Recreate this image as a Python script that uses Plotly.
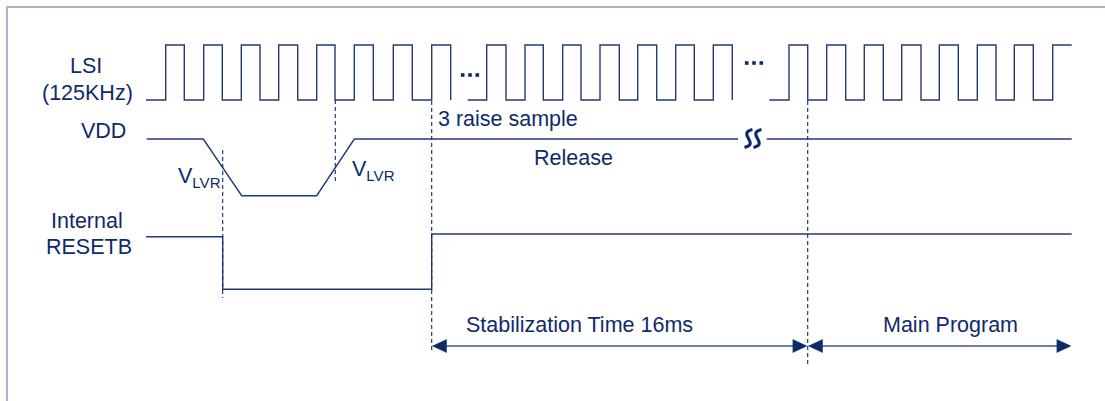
import plotly.graph_objects as go

# ---------------- data (timeline in pixel-like units) ----------------
signal_labels = ["LSI", "(125KHz)", "VDD", "Internal", "RESETB"]
signal_label_x = [86, 87, 103, 87, 89]
signal_label_y = [66, 93, 131, 221, 247]

LSI_HIGH, LSI_LOW = 45, 100
lsi_seg_start = [146, 467.7, 769.3]
lsi_rises = [
    [165.7, 203.7, 241.3, 278.7, 316.7, 354.3, 393.3, 431.7],
    [486.7, 525, 562.7, 600, 637.7, 675.7, 713.3],
    [789, 826.7, 864.3, 901.7, 939.3, 977.3, 1014.3, 1052.7],
]
lsi_falls = [
    [184.3, 222.3, 260, 297.7, 335, 373.3, 412.3, 450.7],
    [506, 543.3, 581, 619.3, 656.7, 694.3, 732.3],
    [807.7, 845.7, 883.3, 921, 958.3, 996, 1033.3],
]
lsi_seg_end = [450.7, 732.3, 1071.7]
lsi_gap_dots_x = [470, 754]
lsi_gap_dots_y = [75, 63]

vdd_x = [146.7, 203.3, 241.7, 316.7, 354.3, 738]
vdd_y = [139, 139, 195.7, 195.7, 139, 139]
vdd2_x = [766.7, 1071.7]
vdd2_y = [139, 139]
vdd_break_x, vdd_break_y = 753, 138.5

rst_x = [146, 222.7, 222.7, 431.7, 431.7, 1071.7]
rst_y = [236.7, 236.7, 289.3, 289.3, 234, 234]

marker_x = [222.7, 335.3, 431.7, 807.7]
marker_top = [150, 100, 101, 101]
marker_bottom = [298, 181, 350, 366]

notes = ["3 raise sample", "Release"]
notes_x = [436, 573]
notes_y = [119, 158]
notes_anchor = ["left", "center"]

vlvr_x = [176, 350]
vlvr_y = [177, 170]

span_start = [431.7, 807.7]
span_end = [807.7, 1071.7]
span_y = 346
span_labels = ["Stabilization Time 16ms", "Main Program"]
span_label_x = [579.7, 950]
span_label_y = 325

# ---------------- styles ----------------
NAVY = "#0f2a6b"
LINE = "#233a78"
ARROWLINE = "#6f80a8"
FRAME = "#a9b5cc"
FONT = "Liberation Sans, Arial, sans-serif"
FS = 21.5

fig = go.Figure()

# LSI clock, built as step waveform from edges
cx, cy = [], []
for s, rises, falls, e in zip(lsi_seg_start, lsi_rises, lsi_falls, lsi_seg_end):
    xs, ys = [s], [LSI_LOW]
    events = sorted([(r, 1) for r in rises] + [(f, 0) for f in falls])
    level = LSI_LOW
    for t, kind in events:
        new = LSI_HIGH if kind == 1 else LSI_LOW
        xs += [t, t]
        ys += [level, new]
        level = new
    if xs[-1] != e:
        xs.append(e)
        ys.append(level)
    cx += xs + [None]
    cy += ys + [None]
fig.add_trace(go.Scatter(x=cx, y=cy, mode="lines",
                         line=dict(color=LINE, width=1.4), hoverinfo="skip"))

# VDD
fig.add_trace(go.Scatter(x=vdd_x + [None] + vdd2_x, y=vdd_y + [None] + vdd2_y,
                         mode="lines", line=dict(color=LINE, width=1.4),
                         hoverinfo="skip"))
# RESETB
fig.add_trace(go.Scatter(x=rst_x, y=rst_y, mode="lines",
                         line=dict(color=LINE, width=1.4), hoverinfo="skip"))

# dashed markers
mx, my = [], []
for x, t, b in zip(marker_x, marker_top, marker_bottom):
    mx += [x, x, None]
    my += [t, b, None]
fig.add_trace(go.Scatter(x=mx, y=my, mode="lines",
                         line=dict(color=NAVY, width=1.1, dash="4px,3px"),
                         hoverinfo="skip"))

# gap dots "..."
DOT_SP = 7.3
dx, dy = [], []
for x, y in zip(lsi_gap_dots_x, lsi_gap_dots_y):
    for k in (-1, 0, 1):
        dx.append(x + k * DOT_SP)
        dy.append(y)
fig.add_trace(go.Scatter(x=dx, y=dy, mode="markers",
                         marker=dict(symbol="square", size=3.6, color=NAVY,
                                     line=dict(width=0)),
                         hoverinfo="skip"))

# span arrows
AL, AH = 14, 6.5
for s, e in zip(span_start, span_end):
    fig.add_trace(go.Scatter(x=[s + 8, e - 8], y=[span_y, span_y], mode="lines",
                             line=dict(color=ARROWLINE, width=2.2),
                             hoverinfo="skip"))
    tl = s + 0.8
    tr = e - 0.8
    fig.add_trace(go.Scatter(
        x=[tl, tl + AL, tl + AL, tl, None, tr, tr - AL, tr - AL, tr],
        y=[span_y, span_y - AH, span_y + AH, span_y, None,
           span_y, span_y - AH, span_y + AH, span_y],
        mode="lines", fill="toself", fillcolor=NAVY,
        line=dict(color=NAVY, width=0.5), hoverinfo="skip"))

annotations = []
for t, x, y in zip(signal_labels, signal_label_x, signal_label_y):
    annotations.append(dict(x=x, y=y, text=t, xanchor="center", yanchor="middle"))
for t, x, y, a in zip(notes, notes_x, notes_y, notes_anchor):
    annotations.append(dict(x=x, y=y, text=t, xanchor=a, yanchor="middle"))
for x, y in zip(vlvr_x, vlvr_y):
    annotations.append(dict(x=x, y=y, text="V<sub>LVR</sub>", xanchor="left",
                            yanchor="middle"))
for t, x in zip(span_labels, span_label_x):
    annotations.append(dict(x=x, y=span_label_y, text=t, xanchor="center",
                            yanchor="middle"))
for a in annotations:
    a.update(xref="x", yref="y", showarrow=False)
    a.setdefault("font", dict(size=FS, color=NAVY, family=FONT))

# break symbol on VDD: two S-shaped strokes
shapes = [dict(type="rect", xref="x", yref="y", x0=7, y0=7, x1=1120, y1=420,
               line=dict(color=FRAME, width=2), layer="below")]
BH = 9
for ox in (-4.5, 4.5):
    x0 = vdd_break_x + ox
    y0 = vdd_break_y
    path = (f"M {x0 + 4},{y0 - BH} "
            f"C {x0 - 12},{y0 - BH + 4} {x0 + 12},{y0 + BH - 4} {x0 - 4},{y0 + BH}")
    shapes.append(dict(type="path", xref="x", yref="y", path=path,
                       line=dict(color=NAVY, width=3.2)))

fig.update_layout(
    width=1105, height=401,
    margin=dict(l=0, r=0, t=0, b=0),
    paper_bgcolor="white", plot_bgcolor="white",
    showlegend=False,
    xaxis=dict(range=[0, 1105], visible=False, fixedrange=True),
    yaxis=dict(range=[401, 0], visible=False, fixedrange=True),
    annotations=annotations,
    shapes=shapes,
)

fig.write_html("out.html", config={"displayModeBar": False},
               post_script="document.body.style.margin='0';")
